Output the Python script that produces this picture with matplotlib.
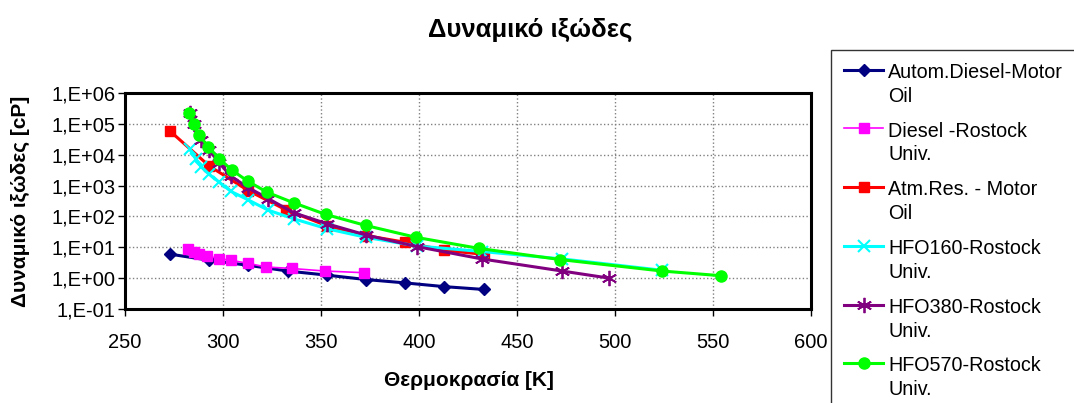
import numpy as np
import matplotlib
matplotlib.use("Agg")
import matplotlib.pyplot as plt
from matplotlib.ticker import FixedLocator, FuncFormatter

plt.rcParams['font.family'] = ['Liberation Sans', 'DejaVu Sans']

# data (T in K, viscosity in cP)
t_autom = [273, 293, 313, 333, 353, 373, 393, 413, 433]
v_autom = [6.0, 3.8, 2.6, 1.7, 1.25, 0.9, 0.7, 0.53, 0.43]

t_diesel = [282, 285, 288, 292, 298, 304, 313, 322, 335, 352, 372]
v_diesel = [8.5, 7.1, 6.0, 5.2, 4.3, 3.8, 3.0, 2.3, 2.06, 1.7, 1.5]

t_atm = [273, 293, 313, 332, 353, 373, 393, 413, 433]
v_atm = [5.8e4, 4.3e3, 680, 165, 50, 24, 14.5, 8.0, 5.9]

t_hfo160 = [283, 286, 289, 293, 298, 304, 313, 323, 336, 353, 373, 399, 432, 473, 524]
v_hfo160 = [1.5e4, 7.5e3, 4.0e3, 2.3e3, 1.3e3, 650, 340, 160, 84, 40, 21, 11, 7.3, 4.2, 1.8]

t_hfo380 = [283, 285, 289, 293, 298, 304, 313, 323, 336, 353, 373, 399, 432, 473, 497]
v_hfo380 = [2.3e5, 1.0e5, 3.1e4, 1.4e4, 5.5e3, 2.0e3, 850, 380, 132, 58, 25, 10.5, 4.2, 1.7, 1.0]

t_hfo570 = [282.5, 285, 288, 292.5, 298, 304.7, 312.6, 322.4, 336, 352.4, 372.8, 398.5, 430.6, 472, 524, 554]
v_hfo570 = [2.3e5, 9.6e4, 4.2e4, 1.8e4, 7.5e3, 3.1e3, 1.4e3, 610, 277, 116, 51, 21, 9.2, 4.0, 1.7, 1.2]

labels = ['Autom.Diesel-Motor\nOil', 'Diesel -Rostock\nUniv.', 'Atm.Res. - Motor\nOil',
          'HFO160-Rostock\nUniv.', 'HFO380-Rostock\nUniv.', 'HFO570-Rostock\nUniv.']

fig = plt.figure(figsize=(10.74, 4.03), dpi=100)
ax = fig.add_axes([125/1074, 1-309/403, 686/1074, 216/403])

ax.plot(t_autom, v_autom, color='#000080', lw=2.2, marker='D', ms=6, label=labels[0])
ax.plot(t_diesel, v_diesel, color='#FF00FF', lw=1.2, marker='s', ms=7, label=labels[1])
ax.plot(t_atm, v_atm, color='#FF0000', lw=2.2, marker='s', ms=7, label=labels[2])
ax.plot(t_hfo160, v_hfo160, color='#00FFFF', lw=2.2, marker='x', ms=9, mew=1.5, label=labels[3])
ax.plot(t_hfo380, v_hfo380, color='#800080', lw=2.2, marker=(6, 2, 0), ms=11, mew=1.3, label=labels[4])
ax.plot(t_hfo570, v_hfo570, color='#00FF00', lw=2.2, marker='o', ms=8, label=labels[5])

ax.set_yscale('log')
ax.set_xlim(250, 600)
ax.set_ylim(0.1, 1e6)
ax.xaxis.set_major_locator(FixedLocator(np.arange(250, 601, 50)))
ax.yaxis.set_major_locator(FixedLocator([10.0**k for k in range(-1, 7)]))
ax.yaxis.set_minor_locator(FixedLocator([]))
ax.yaxis.set_major_formatter(FuncFormatter(lambda v, p: '1,E%+03d' % int(round(np.log10(v)))))
ax.tick_params(axis='both', which='major', direction='out', length=5, width=1, labelsize=14.5)
ax.tick_params(axis='x', pad=12)
ax.tick_params(axis='y', pad=2)
ax.grid(True, which='major', color='#808080', linestyle=':', linewidth=1)
for s in ax.spines.values():
    s.set_linewidth(2.2)
    s.set_color('black')

ax.set_xlabel('Θερμοκρασία [K]', fontsize=15, fontweight='bold')
ax.set_ylabel('Δυναμικό ιξώδες [cP]', fontsize=15, fontweight='bold')
ax.xaxis.set_label_coords((469-125)/686, -0.285)
ax.yaxis.set_label_coords(-0.138, 0.5)

fig.text(530/1074, 1-30/403, 'Δυναμικό ιξώδες', ha='center', va='center',
         fontsize=18.5, fontweight='bold')

leg = fig.legend(loc='upper left', bbox_to_anchor=(831/1074, 1-50/403), fontsize=14.2,
                 frameon=True, fancybox=False, edgecolor='black', borderpad=0.65,
                 handlelength=2.0, handletextpad=0.25, labelspacing=0.8,
                 borderaxespad=0)
leg.get_frame().set_linewidth(1)
for txt in leg.get_texts():
    txt.set_linespacing(1.33)
for line in leg.get_lines():
    line.set_ydata(np.asarray(line.get_ydata()) + 11)

fig.savefig('out.png', dpi=100)
